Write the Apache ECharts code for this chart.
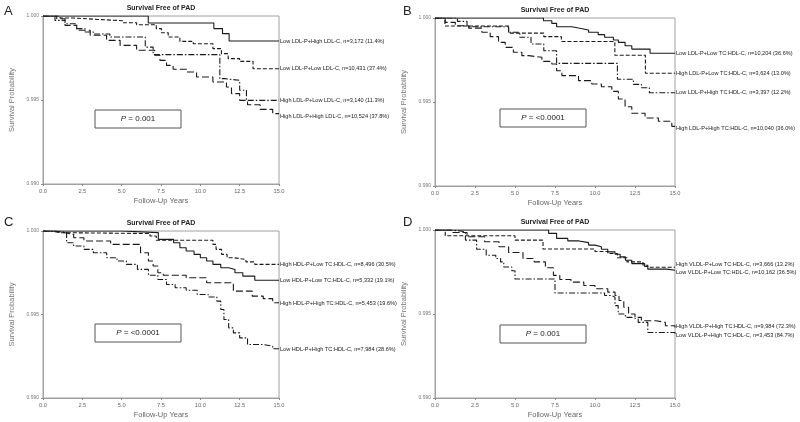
<!doctype html>
<html>
<head>
<meta charset="utf-8">
<title>Survival Free of PAD</title>
<script src="https://cdn.jsdelivr.net/npm/echarts@6/dist/echarts.min.js"></script>
<style>
    html, body { margin:0; padding:0; background:#fff; }
    #main { width:800px; height:422px; }
</style>
</head>
<body>
<div id="main"></div>
<script>
    // A: LDL-P x LDL-C
    var aNames = ['Low LDL-P+High LDL-C, n=3,172 (11.4%)', 'Low LDL-P+Low LDL-C, n=10,431 (37.4%)',
                  'High LDL-P+Low LDL-C, n=3,140 (11.3%)', 'High LDL-P+High LDL-C, n=10,524 (37.8%)'];
    var aLowPHighC = [[0,1],[6.69,0.99958],[10.86,0.99925],[11.41,0.99895],[11.83,0.99851],[15,0.99851]];
    var aLowPLowC = [[0,1],[1.08,0.99988],[1.93,0.9998],[3.4,0.99972],[5.1,0.9996],[5.95,0.99948],[7.2,0.99925],
                     [7.53,0.999],[7.96,0.99875],[8.7,0.99849],[9.55,0.99835],[10.8,0.99806],[11.34,0.99776],
                     [11.77,0.99746],[12.5,0.9973],[13.35,0.99686],[15,0.99686]];
    var aHighPLowC = [[0,1],[0.76,0.99974],[1.4,0.99954],[2.14,0.99925],[2.67,0.99905],[3.2,0.99893],[4.25,0.99875],
                      [6.5,0.99815],[7.0,0.9977],[11.24,0.99627],[11.56,0.99617],[12.5,0.99558],[12.93,0.99498],[15,0.99498]];
    var aHighPHighC = [[0,1],[0.87,0.99984],[1.4,0.99944],[2.14,0.99915],[3.0,0.99885],[4.04,0.99855],[4.9,0.99825],
                       [5.95,0.99796],[7.1,0.99766],[7.43,0.99736],[7.85,0.99706],[8.27,0.99683],[9.12,0.99667],
                       [9.76,0.99637],[10.8,0.99607],[11.66,0.99577],[11.98,0.99538],[12.5,0.99498],[13.0,0.99472],
                       [13.8,0.99444],[14.6,0.99419],[15,0.99419]];

    // B: LDL-P x TC:HDL-C
    var bNames = ['Low LDL-P+Low TC:HDL-C, n=10,204 (36.6%)', 'High LDL-P+Low TC:HDL-C, n=3,624 (13.0%)',
                  'Low LDL-P+High TC:HDL-C, n=3,397 (12.2%)', 'High LDL-P+High TC:HDL-C, n=10,040 (36.0%)'];
    var bLowPLowR = [[0,1],[6.78,0.99984],[7.3,0.99968],[7.6,0.99948],[8.55,0.9994],[8.97,0.99929],[9.6,0.99915],
                     [10.2,0.99901],[10.6,0.99885],[11.15,0.99869],[11.46,0.99855],[11.88,0.99835],[12.3,0.99815],
                     [13.44,0.9979],[15,0.9979]];
    var bHighPLowR = [[0,1],[0.62,0.99952],[4.6,0.9991],[6.8,0.99889],[7.9,0.9986],[11.24,0.99778],[13.15,0.99671],[15,0.99671]];
    var bLowPHighR = [[0,1],[1.4,0.9998],[2.0,0.99948],[4.6,0.99915],[5.3,0.99885],[6.0,0.99845],[6.8,0.99805],
                      [7.6,0.9973],[11.4,0.99635],[12.4,0.99605],[12.9,0.99585],[13.4,0.99555],[15,0.99555]];
    var bHighPHighR = [[0,1],[0.64,0.99974],[1.27,0.99954],[2.1,0.9994],[2.93,0.99915],[3.45,0.99889],[3.97,0.99855],
                       [4.39,0.99825],[4.9,0.99796],[5.43,0.99776],[5.85,0.99766],[6.68,0.99742],[7.3,0.99726],
                       [7.6,0.99686],[7.93,0.99657],[8.97,0.99627],[9.8,0.99607],[10.4,0.99591],[11.05,0.99563],
                       [11.46,0.99518],[11.88,0.99472],[12.3,0.99433],[13.13,0.99405],[13.96,0.99385],[14.8,0.99355],[15,0.99355]];

    // C: HDL-P x TC:HDL-C
    var cNames = ['High HDL-P+Low TC:HDL-C, n=8,496 (30.5%)', 'Low HDL-P+Low TC:HDL-C, n=5,332 (19.1%)',
                  'High HDL-P+High TC:HDL-C, n=5,453 (19.6%)', 'Low HDL-P+High TC:HDL-C, n=7,984 (28.6%)'];
    var cHighPLowR = [[0,1],[0.5,0.9999],[1.1,0.99985],[6.8,0.9997],[7.2,0.99945],[10.8,0.9992],[11.0,0.9989],
                      [11.35,0.9986],[11.7,0.9984],[12.1,0.9983],[12.9,0.99815],[13.46,0.998],[15,0.998]];
    var cLowPLowR = [[0,1],[5.0,0.9999],[7.33,0.9995],[8.3,0.9993],[8.7,0.999],[9.1,0.9988],[9.6,0.9986],[10.0,0.9984],
                     [10.4,0.9982],[10.8,0.998],[11.3,0.9978],[11.8,0.9977],[12.2,0.9975],[12.7,0.9973],[13.46,0.99705],[15,0.99705]];
    var cHighPHighR = [[0,1],[0.7,0.9999],[1.4,0.9998],[1.95,0.9996],[2.6,0.9994],[4.3,0.9992],[6.2,0.9987],[6.7,0.9982],
                       [7.0,0.9979],[7.3,0.9975],[7.65,0.99735],[9.1,0.9972],[10.4,0.9969],[12.1,0.9964],[13.3,0.9961],
                       [14.0,0.99595],[14.6,0.9957],[15,0.9957]];
    var cLowPHighR = [[0,1],[0.7,0.9999],[1.5,0.9993],[1.95,0.9991],[2.6,0.9989],[3.2,0.9987],[4.05,0.9984],[4.7,0.9982],
                      [5.3,0.998],[6.0,0.9977],[6.7,0.99735],[7.3,0.9971],[7.85,0.9968],[8.4,0.9966],[9.1,0.99645],
                      [9.8,0.9962],[10.5,0.99605],[11.05,0.9958],[11.3,0.9953],[11.5,0.9947],[11.8,0.9942],[12.1,0.9939],
                      [12.5,0.9936],[13.0,0.9932],[14.0,0.9931],[14.6,0.99295],[15,0.99295]];

    // D: VLDL-P x TC:HDL-C
    var dNames = ['High VLDL-P+Low TC:HDL-C, n=3,666 (13.2%)', 'Low VLDL-P+Low TC:HDL-C, n=10,162 (36.5%)',
                  'High VLDL-P+High TC:HDL-C, n=9,984 (72.3%)', 'Low VLDL-P+High TC:HDL-C, n=3,453 (84.7%)'];
    var dHighPLowR = [[0,1],[0.64,0.99966],[5.0,0.9994],[6.75,0.99887],[10.0,0.99872],[10.8,0.9986],[11.4,0.99835],
                      [12.0,0.9981],[13.0,0.9979],[13.3,0.99778],[15,0.99778]];
    var dLowPLowR = [[0,1],[7.1,0.9998],[7.6,0.9995],[8.3,0.99935],[9.0,0.99925],[9.6,0.9991],[10.0,0.999],[10.4,0.99885],
                     [10.8,0.9987],[11.25,0.99856],[11.57,0.9984],[11.9,0.9982],[12.3,0.998],[13.1,0.99783],[13.3,0.99767],
                     [14.5,0.9976],[15,0.9976]];
    var dHighPHighR = [[0,1],[1.1,0.99985],[2.0,0.9996],[3.1,0.9993],[4.0,0.999],[4.6,0.99866],[5.5,0.9983],[6.2,0.9981],
                       [6.9,0.99775],[7.4,0.9973],[7.8,0.99705],[8.5,0.9969],[9.3,0.9967],[10.0,0.9965],[10.8,0.9963],
                       [11.25,0.9961],[11.5,0.9958],[11.8,0.9954],[12.1,0.995],[12.5,0.9948],[12.9,0.9946],[13.8,0.9945],
                       [14.4,0.9943],[15,0.9942]];
    var dLowPHighR = [[0,1],[1.0,0.9999],[1.9,0.9994],[2.6,0.99885],[3.2,0.9985],[3.8,0.9983],[4.1,0.9981],[4.3,0.9978],
                      [4.8,0.99757],[5.0,0.99708],[7.5,0.99625],[10.6,0.9961],[11.05,0.996],[11.25,0.9955],[11.45,0.995],
                      [11.9,0.9948],[12.3,0.9947],[12.7,0.9945],[13.3,0.9939],[15,0.99378]];

    var pValues = ['0.001', '<0.0001', '<0.0001', '0.001'];
    var letters = ['A', 'B', 'C', 'D'];

    // line dash styles
    var SOLID = 'solid', SHORT = [4, 2], LONG = [7, 3], DASHDOT = [6, 2, 1.5, 2];

    var grids = [
        {left: 43, top: 16, width: 236, height: 168},
        {left: 435, top: 18, width: 240, height: 168},
        {left: 43, top: 231, width: 236, height: 167},
        {left: 435, top: 230, width: 240, height: 168}
    ];

    var curves = [
        [0, aNames[0], aLowPHighC, SOLID, 0], [0, aNames[1], aLowPLowC, SHORT, 0],
        [0, aNames[2], aHighPLowC, DASHDOT, 0], [0, aNames[3], aHighPHighC, LONG, 3],
        [1, bNames[0], bLowPLowR, SOLID, 0], [1, bNames[1], bHighPLowR, SHORT, 0],
        [1, bNames[2], bLowPHighR, DASHDOT, 0], [1, bNames[3], bHighPHighR, LONG, 2],
        [2, cNames[0], cHighPLowR, SHORT, 0], [2, cNames[1], cLowPLowR, SOLID, 0],
        [2, cNames[2], cHighPHighR, LONG, 1], [2, cNames[3], cLowPHighR, DASHDOT, 1],
        [3, dNames[0], dHighPLowR, SHORT, -3], [3, dNames[1], dLowPLowR, SOLID, 2],
        [3, dNames[2], dHighPHighR, LONG, -1], [3, dNames[3], dLowPHighR, DASHDOT, 1]
    ];

    var FONT = 'Liberation Sans';
    var myChart = echarts.init(document.getElementById('main'));

    var xAxes = [], yAxes = [], series = [], graphics = [];
    grids.forEach(function (g, i) {
        g.show = true;
        g.borderColor = '#a0a0a0';
        g.borderWidth = 1;
        xAxes.push({
            gridIndex: i, type: 'value', min: 0, max: 15, interval: 2.5,
            name: 'Follow-Up Years', nameLocation: 'middle', nameGap: 13,
            nameTextStyle: {fontSize: 7.5, color: '#666', fontFamily: FONT},
            axisLine: {lineStyle: {color: '#a0a0a0'}},
            axisTick: {length: 2, lineStyle: {color: '#888'}},
            axisLabel: {fontSize: 5.7, color: '#666', margin: 4, fontFamily: FONT,
                formatter: function (v) { return v.toFixed(1); }},
            splitLine: {show: false}
        });
        yAxes.push({
            gridIndex: i, type: 'value', min: 0.99, max: 1, interval: 0.005,
            name: 'Survival Probability', nameLocation: 'middle', nameGap: 27,
            nameTextStyle: {fontSize: 7.5, color: '#777', fontFamily: FONT},
            axisLine: {lineStyle: {color: '#a0a0a0'}},
            axisTick: {length: 2, lineStyle: {color: '#888'}},
            axisLabel: {fontSize: 5, color: '#777', margin: 4, fontFamily: FONT,
                formatter: function (v) { return v.toFixed(3); }},
            splitLine: {show: false}
        });

        // panel title
        graphics.push({
            type: 'text', x: g.left + g.width / 2, y: g.top - 8,
            style: {text: 'Survival Free of PAD', font: 'bold 7px ' + FONT, fill: '#222',
                textAlign: 'center', textVerticalAlign: 'middle'}
        });
        // panel letter
        graphics.push({
            type: 'text', x: i % 2 ? 403 : 4, y: i < 2 ? 5 : 216,
            style: {text: letters[i], font: '13px ' + FONT, fill: '#222'}
        });
        // p-value box
        graphics.push({
            type: 'group', x: g.left + (i % 2 ? 65 : 52), y: g.top + (i % 2 ? (i < 2 ? 91 : 95) : (i < 2 ? 94 : 93)),
            children: [
                {type: 'rect', shape: {x: 0, y: 0, width: 86, height: 18},
                    style: {fill: '#fff', stroke: '#555', lineWidth: 1}},
                {type: 'text', x: 43, y: 9, style: {
                    text: '{i|P} = ' + pValues[i],
                    font: '8px ' + FONT, fill: '#222', textAlign: 'center', textVerticalAlign: 'middle',
                    rich: {i: {fontStyle: 'italic', fontSize: 8, fontFamily: FONT}}
                }}
            ]
        });
    });

    curves.forEach(function (c) {
        series.push({
            name: c[1], type: 'line', step: 'end', xAxisIndex: c[0], yAxisIndex: c[0],
            data: c[2], symbol: 'none', silent: true,
            lineStyle: {color: '#1a1a1a', width: 1.1, type: c[3]},
            endLabel: {show: true, formatter: '{a}', fontSize: 5.6, color: '#1a1a1a', fontFamily: FONT,
                distance: 1, offset: [0, c[4]]}
        });
    });

    var option = {
        animation: false,
        backgroundColor: '#fff',
        grid: grids,
        xAxis: xAxes,
        yAxis: yAxes,
        series: series,
        graphic: graphics
    };
    myChart.setOption(option, true);
</script>
</body>
</html>
